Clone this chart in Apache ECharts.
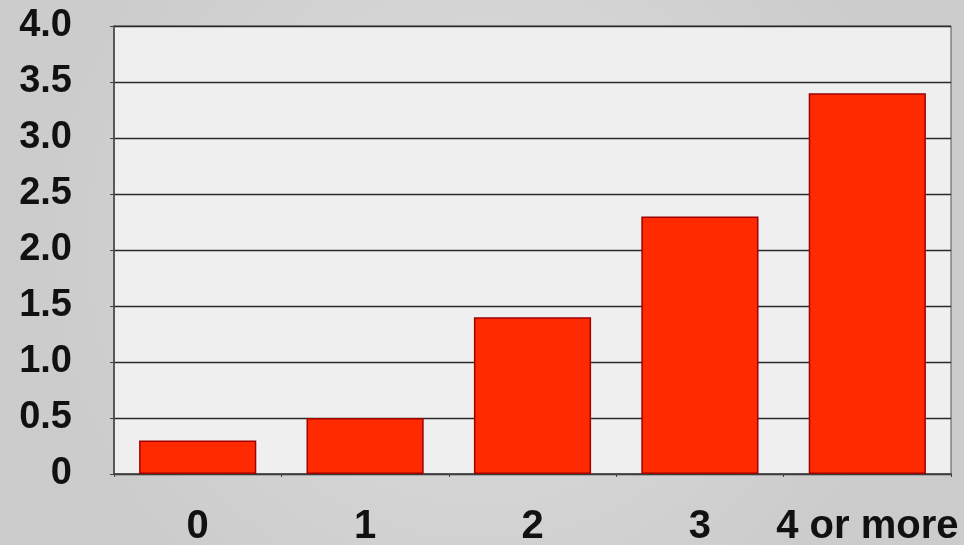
<!DOCTYPE html>
<html>
<head>
<meta charset="utf-8">
<script src="https://cdn.jsdelivr.net/npm/echarts@6/dist/echarts.min.js"></script>
<style>
  html, body { margin: 0; padding: 0; }
  #chart { width: 964px; height: 545px; }
</style>
</head>
<body>
<div id="chart"></div>
<script>
// 数据
var categories = ['0', '1', '2', '3', '4 or more'];
var values = [0.3, 0.5, 1.4, 2.3, 3.4];
var yTicks = ['0', '0.5', '1.0', '1.5', '2.0', '2.5', '3.0', '3.5', '4.0'];

var myChart = echarts.init(document.getElementById('chart'));

var option = {
    // 背景渐变灰
    backgroundColor: {
        type: 'radial', x: 0.5, y: 0.45, r: 0.8,
        colorStops: [
            { offset: 0, color: '#dedede' },
            { offset: 1, color: '#cccccc' }
        ]
    },
    textStyle: { fontFamily: 'Liberation Sans, Arial, sans-serif' },
    grid: {
        left: 114, right: 13, top: 26, bottom: 71,
        outerBoundsMode: 'none',
        containLabel: false,
        show: true,
        backgroundColor: '#efefef',
        borderColor: '#555',
        borderWidth: 1
    },
    xAxis: {
        type: 'category',
        data: categories,
        axisLine: { lineStyle: { color: '#444', width: 1.5 } },
        axisTick: { show: true, length: 3, lineStyle: { color: '#444' } },
        axisLabel: {
            color: '#111', fontSize: 40, fontWeight: 'bold', margin: 33,
            interval: 0
        }
    },
    yAxis: {
        type: 'value',
        min: 0, max: 4, interval: 0.5,
        axisLine: { show: true, lineStyle: { color: '#444', width: 1.5 } },
        axisTick: { show: true, length: 4, lineStyle: { color: '#444' } },
        splitLine: { lineStyle: { color: '#2a2a2a', width: 1.3 } },
        axisLabel: {
            color: '#111', fontSize: 38, fontWeight: 'bold', margin: 42,
            formatter: function (v) { return yTicks[Math.round(v * 2)]; }
        }
    },
    series: [{
        type: 'bar',
        data: values,
        barWidth: '70%',
        itemStyle: {
            color: '#ff2a00',
            borderColor: '#a00000',
            borderWidth: 1.5
        }
    }]
};

myChart.setOption(option);
</script>
</body>
</html>
